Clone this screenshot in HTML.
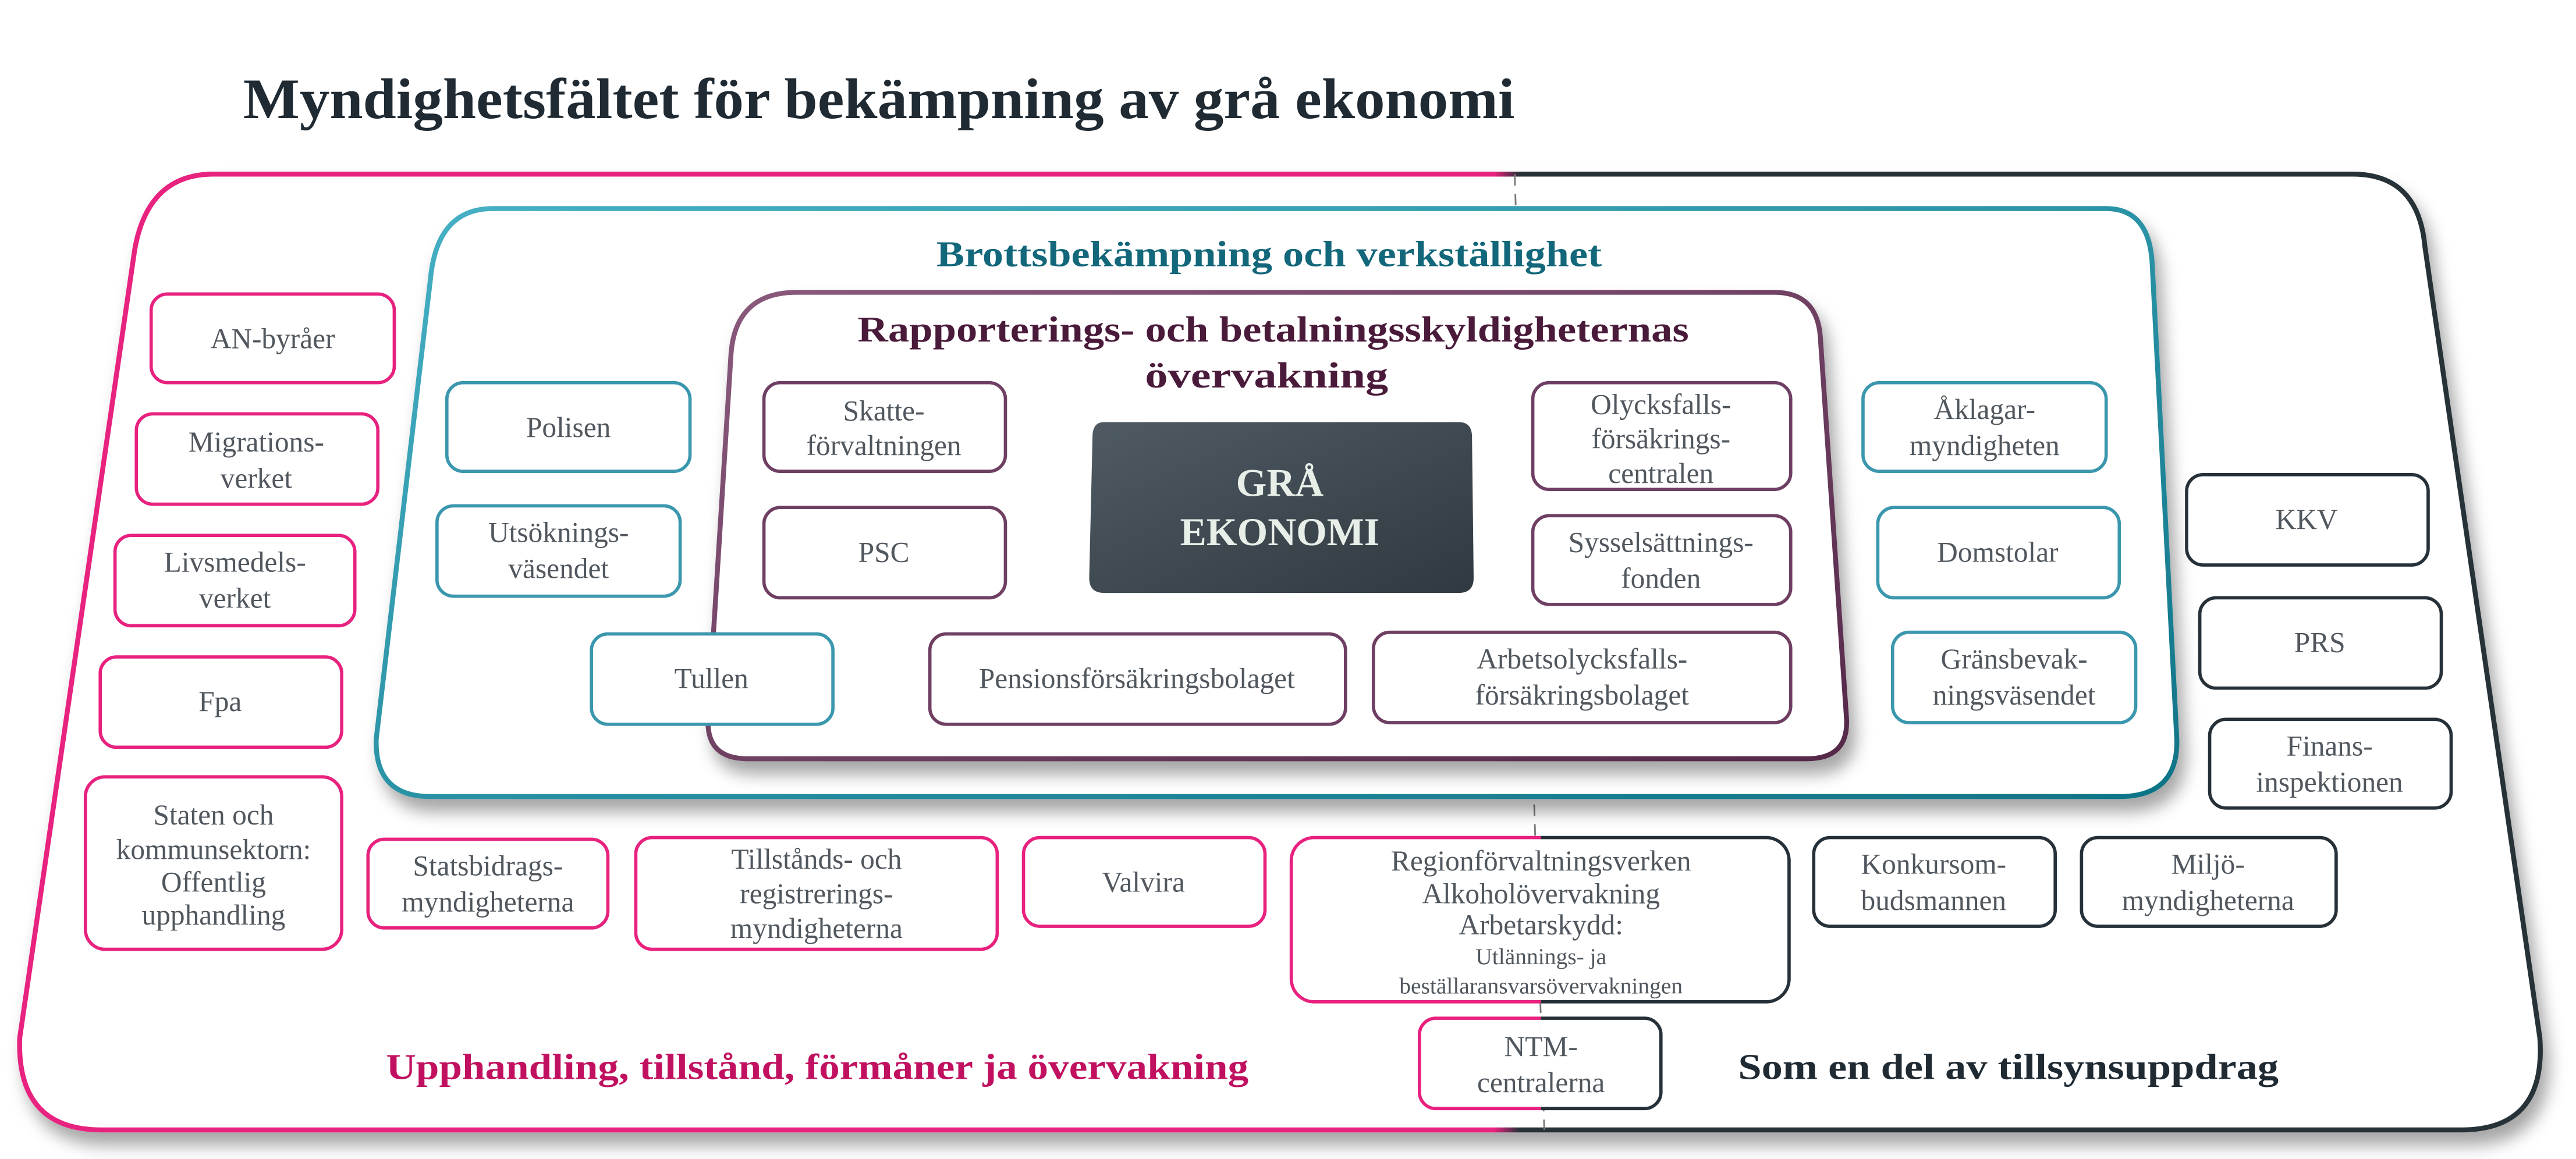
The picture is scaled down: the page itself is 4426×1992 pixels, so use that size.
<!DOCTYPE html>
<html><head><meta charset="utf-8"><style>
html,body{margin:0;padding:0;background:#fff;}
svg{display:block;}
text{font-family:"Liberation Serif","DejaVu Serif",serif;}
.b{font-size:17.5px;fill:#50575e;text-anchor:middle;}
.s{font-size:14px;fill:#50575e;text-anchor:middle;}
.pk{fill:#fff;stroke:#e8217f;stroke-width:2;}
.tl{fill:#fff;stroke:#3a97ad;stroke-width:2;}
.pu{fill:#fff;stroke:#6e3f63;stroke-width:2;}
.dk{fill:#fff;stroke:#263038;stroke-width:2;}
</style></head><body>
<svg width="4426" height="1992" viewBox="0 0 1568 705.7" xmlns="http://www.w3.org/2000/svg">
<defs>
<filter id="sh" x="-10%" y="-10%" width="120%" height="130%"><feDropShadow dx="4" dy="8" stdDeviation="5" flood-color="#000" flood-opacity="0.35"/></filter>
<linearGradient id="og" x1="0" x2="1" y1="0" y2="0"><stop offset="0.585" stop-color="#e8217f"/><stop offset="0.595" stop-color="#263038"/></linearGradient>
<linearGradient id="tg" x1="0" x2="1" y1="0" y2="1"><stop offset="0" stop-color="#46b0c4"/><stop offset="1" stop-color="#107487"/></linearGradient>
<linearGradient id="pg" x1="0" x2="1" y1="0" y2="1"><stop offset="0" stop-color="#8a5a7c"/><stop offset="1" stop-color="#55284a"/></linearGradient>
<linearGradient id="gg" x1="0" x2="1" y1="0" y2="1"><stop offset="0" stop-color="#4f5a63"/><stop offset="1" stop-color="#30393f"/></linearGradient>
<clipPath id="cl"><rect x="0" y="0" width="938" height="706"/></clipPath>
<clipPath id="cr"><rect x="938" y="0" width="700" height="706"/></clipPath>
</defs>
<text x="148" y="72" textLength="774" lengthAdjust="spacingAndGlyphs" style="font-size:35px;font-weight:bold;fill:#1f2a33;">Myndighetsfältet för bekämpning av grå ekonomi</text>

<path d="M130,106 L1432,106 Q1472,106 1476,150 L1546,632 Q1550,688 1498,688 L62,688 Q10,688 12,632 L82,152 Q90,106 130,106 Z" fill="#fff" stroke="url(#og)" stroke-width="3" filter="url(#sh)"/>
<line x1="922" y1="106" x2="940" y2="688" stroke="#777" stroke-width="1" stroke-dasharray="7,5"/>

<path d="M300,127 L1282,127 Q1308,127 1310,160 L1325,450 Q1326,485 1290,485 L262,485 Q228,485 229,450 L262,170 Q266,127 300,127 Z" fill="#fff" stroke="url(#tg)" stroke-width="3" filter="url(#sh)"/>
<text x="570" y="162" textLength="405" lengthAdjust="spacingAndGlyphs" style="font-size:22px;font-weight:bold;fill:#13677a;">Brottsbekämpning och verkställighet</text>

<path d="M485,178 L1080,178 Q1106,178 1108,205 L1124,438 Q1125,462 1100,462 L455,462 Q430,462 431,438 L445,215 Q448,178 485,178 Z" fill="#fff" stroke="url(#pg)" stroke-width="3" filter="url(#sh)"/>
<text x="522" y="208" textLength="506" lengthAdjust="spacingAndGlyphs" style="font-size:22px;font-weight:bold;fill:#4a1a3a;">Rapporterings- och betalningsskyldigheternas</text>
<text x="697" y="236" textLength="148" lengthAdjust="spacingAndGlyphs" style="font-size:22px;font-weight:bold;fill:#4a1a3a;">övervakning</text>

<path d="M672,257 L888,257 Q896,257 896,266 L897,352 Q897,361 888,361 L672,361 Q663,361 663,352 L665,266 Q665,257 672,257 Z" fill="url(#gg)"/>
<text x="779" y="302" style="font-size:24px;font-weight:bold;fill:#e8efe8;text-anchor:middle;">GRÅ</text>
<text x="779" y="332" style="font-size:24px;font-weight:bold;fill:#e8efe8;text-anchor:middle;">EKONOMI</text>

<rect class="pu" x="465" y="233" width="147" height="54" rx="10"/><text class="b" x="538" y="256">Skatte-</text><text class="b" x="538" y="277">förvaltningen</text>
<rect class="pu" x="465" y="309" width="147" height="55" rx="10"/><text class="b" x="538" y="342">PSC</text>
<rect class="pu" x="933" y="233" width="157" height="65" rx="10"/><text class="b" x="1011" y="252">Olycksfalls-</text><text class="b" x="1011" y="273">försäkrings-</text><text class="b" x="1011" y="294">centralen</text>
<rect class="pu" x="933" y="314" width="157" height="54" rx="10"/><text class="b" x="1011" y="336">Sysselsättnings-</text><text class="b" x="1011" y="358">fonden</text>
<rect class="pu" x="566" y="386" width="253" height="55" rx="10"/><text class="b" x="692" y="419">Pensionsförsäkringsbolaget</text>
<rect class="pu" x="836" y="385" width="254" height="55" rx="10"/><text class="b" x="963" y="407">Arbetsolycksfalls-</text><text class="b" x="963" y="429">försäkringsbolaget</text>

<rect class="tl" x="272" y="233" width="148" height="54" rx="10"/><text class="b" x="346" y="266">Polisen</text>
<rect class="tl" x="266" y="308" width="148" height="55" rx="10"/><text class="b" x="340" y="330">Utsöknings-</text><text class="b" x="340" y="352">väsendet</text>
<rect class="tl" x="360" y="386" width="147" height="55" rx="10"/><text class="b" x="433" y="419">Tullen</text>
<rect class="tl" x="1134" y="233" width="148" height="54" rx="10"/><text class="b" x="1208" y="255">Åklagar-</text><text class="b" x="1208" y="277">myndigheten</text>
<rect class="tl" x="1143" y="309" width="147" height="55" rx="10"/><text class="b" x="1216" y="342">Domstolar</text>
<rect class="tl" x="1152" y="385" width="148" height="55" rx="10"/><text class="b" x="1226" y="407">Gränsbevak-</text><text class="b" x="1226" y="429">ningsväsendet</text>

<rect class="pk" x="92" y="179" width="148" height="54" rx="10"/><text class="b" x="166" y="212">AN-byråer</text>
<rect class="pk" x="83" y="252" width="147" height="55" rx="10"/><text class="b" x="156" y="275">Migrations-</text><text class="b" x="156" y="297">verket</text>
<rect class="pk" x="70" y="326" width="146" height="55" rx="10"/><text class="b" x="143" y="348">Livsmedels-</text><text class="b" x="143" y="370">verket</text>
<rect class="pk" x="61" y="400" width="147" height="55" rx="10"/><text class="b" x="134" y="433">Fpa</text>
<rect class="pk" x="52" y="473" width="156" height="105" rx="12"/><text class="b" x="130" y="502">Staten och</text><text class="b" x="130" y="523">kommunsektorn:</text><text class="b" x="130" y="543">Offentlig</text><text class="b" x="130" y="563">upphandling</text>
<rect class="pk" x="224" y="511" width="146" height="54" rx="10"/><text class="b" x="297" y="533">Statsbidrags-</text><text class="b" x="297" y="555">myndigheterna</text>
<rect class="pk" x="387" y="510" width="220" height="68" rx="10"/><text class="b" x="497" y="529">Tillstånds- och</text><text class="b" x="497" y="550">registrerings-</text><text class="b" x="497" y="571">myndigheterna</text>
<rect class="pk" x="623" y="510" width="147" height="54" rx="10"/><text class="b" x="696" y="543">Valvira</text>

<rect class="dk" x="1331" y="289" width="147" height="55" rx="10"/><text class="b" x="1404" y="322">KKV</text>
<rect class="dk" x="1339" y="364" width="147" height="55" rx="10"/><text class="b" x="1412" y="397">PRS</text>
<rect class="dk" x="1345" y="438" width="147" height="54" rx="10"/><text class="b" x="1418" y="460">Finans-</text><text class="b" x="1418" y="482">inspektionen</text>
<rect class="dk" x="1104" y="510" width="147" height="54" rx="10"/><text class="b" x="1177" y="532">Konkursom-</text><text class="b" x="1177" y="554">budsmannen</text>
<rect class="dk" x="1267" y="510" width="155" height="54" rx="10"/><text class="b" x="1344" y="532">Miljö-</text><text class="b" x="1344" y="554">myndigheterna</text>

<g clip-path="url(#cl)"><rect class="pk" x="786" y="510" width="303" height="100" rx="14"/><rect class="pk" x="864" y="620" width="147" height="55" rx="10"/></g>
<g clip-path="url(#cr)"><rect class="dk" x="786" y="510" width="303" height="100" rx="14"/><rect class="dk" x="864" y="620" width="147" height="55" rx="10"/></g>
<text class="b" x="938" y="530">Regionförvaltningsverken</text>
<text class="b" x="938" y="550">Alkoholövervakning</text>
<text class="b" x="938" y="569">Arbetarskydd:</text>
<text class="s" x="938" y="587">Utlännings- ja</text>
<text class="s" x="938" y="605">beställaransvarsövervakningen</text>
<text class="b" x="938" y="643">NTM-</text><text class="b" x="938" y="665">centralerna</text>

<text x="235" y="657" textLength="525" lengthAdjust="spacingAndGlyphs" style="font-size:22px;font-weight:bold;fill:#c0105f;">Upphandling, tillstånd, förmåner ja övervakning</text>
<text x="1058" y="657" textLength="329" lengthAdjust="spacingAndGlyphs" style="font-size:22px;font-weight:bold;fill:#1f2a33;">Som en del av tillsynsuppdrag</text>
</svg>
</body></html>
